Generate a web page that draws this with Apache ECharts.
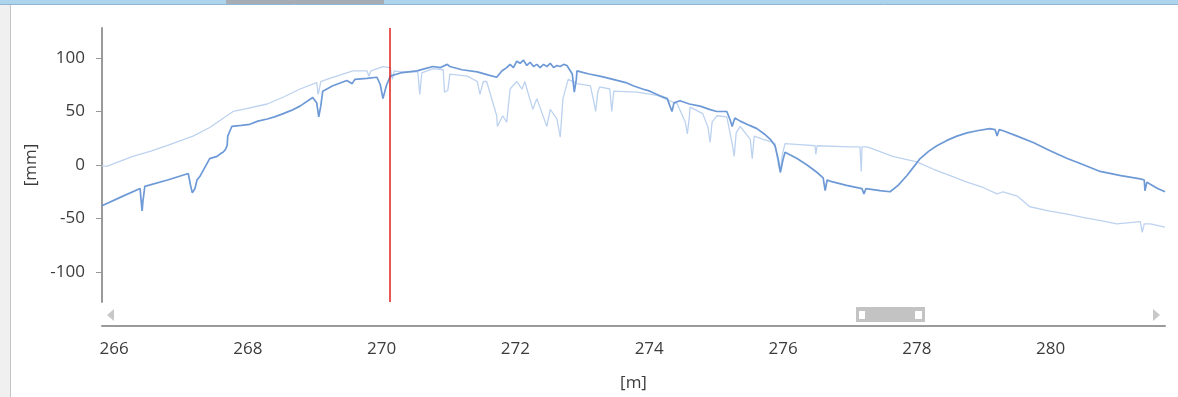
<!DOCTYPE html>
<html>
<head>
<meta charset="utf-8">
<script src="https://cdn.jsdelivr.net/npm/echarts@6/dist/echarts.min.js"></script>
<style>
html, body { margin: 0; padding: 0; background: #fff; }
#chart { width: 1178px; height: 397px; }
</style>
</head>
<body>
<div id="chart"></div>
<script>
// 数据: [位置 m, 偏差 mm]
var darkLine = [
    [265.82, -38], [266.10, -30], [266.39, -22], [266.40, -30], [266.42, -43], [266.43, -35],
    [266.45, -25], [266.46, -20], [266.80, -14], [267.11, -8], [267.14, -18], [267.17, -26],
    [267.21, -22], [267.24, -14], [267.29, -10], [267.43, 6], [267.54, 8], [267.60, 11],
    [267.63, 12], [267.66, 14], [267.69, 18], [267.70, 27], [267.76, 36], [267.90, 37],
    [268.03, 38], [268.15, 41], [268.29, 43], [268.40, 45], [268.53, 48], [268.65, 51],
    [268.78, 55], [268.97, 63], [269.03, 58], [269.06, 45], [269.09, 55], [269.12, 69],
    [269.27, 74], [269.48, 79], [269.56, 76], [269.60, 80], [269.78, 81], [269.93, 82],
    [269.98, 75], [270.02, 62], [270.07, 74], [270.13, 83], [270.28, 86], [270.40, 87],
    [270.53, 88], [270.65, 90], [270.77, 92], [270.88, 91], [270.98, 94], [271.02, 92],
    [271.20, 89], [271.43, 87], [271.60, 84], [271.72, 82], [271.80, 88], [271.87, 91],
    [271.92, 94], [271.97, 91], [272.02, 97], [272.07, 95], [272.12, 98], [272.17, 93],
    [272.22, 96], [272.27, 92], [272.32, 94], [272.37, 91], [272.42, 94], [272.47, 92],
    [272.52, 95], [272.57, 91], [272.62, 93], [272.67, 92], [272.72, 94], [272.77, 93],
    [272.85, 85], [272.88, 68], [272.91, 80], [272.92, 88], [273.10, 85], [273.26, 83],
    [273.40, 81], [273.52, 79], [273.65, 77], [273.76, 74], [273.90, 71], [274.01, 69],
    [274.15, 65], [274.27, 62], [274.31, 55], [274.34, 50], [274.37, 58], [274.46, 60],
    [274.60, 57], [274.76, 55], [274.90, 52], [275.01, 50], [275.16, 50], [275.21, 42],
    [275.24, 36], [275.28, 44], [275.36, 41], [275.50, 37], [275.61, 34], [275.72, 29],
    [275.81, 24], [275.88, 18], [275.93, 5], [275.96, -7], [276.00, 5], [276.03, 12],
    [276.21, 6], [276.36, 0], [276.51, -7], [276.60, -12], [276.63, -24], [276.66, -14],
    [276.70, -15], [276.95, -19], [277.18, -22], [277.21, -27], [277.24, -22], [277.45, -24],
    [277.60, -25], [277.72, -19], [277.85, -10], [277.95, -2], [278.05, 6], [278.18, 13],
    [278.30, 18], [278.45, 23], [278.60, 27], [278.75, 30], [278.90, 32], [279.09, 34],
    [279.17, 33], [279.20, 27], [279.23, 33], [279.29, 32], [279.50, 27], [279.74, 21],
    [280.00, 13], [280.25, 6], [280.50, 0], [280.74, -6], [281.05, -10], [281.34, -13],
    [281.40, -14], [281.41, -24], [281.44, -16], [281.49, -18], [281.60, -22], [281.71, -25]
];

var lightLine = [
    [265.82, -1], [265.90, -1], [266.28, 8], [266.55, 13], [266.79, 18], [267.18, 27],
    [267.43, 35], [267.78, 50], [267.93, 52], [268.29, 57], [268.55, 64], [268.78, 71],
    [269.03, 77], [269.05, 66], [269.06, 68], [269.09, 78], [269.18, 80], [269.57, 88],
    [269.78, 88], [269.81, 83], [269.84, 88], [270.02, 92], [270.13, 91], [270.16, 80],
    [270.19, 88], [270.28, 87], [270.54, 87], [270.57, 66], [270.60, 86], [270.77, 90],
    [270.92, 89], [270.94, 68], [270.99, 70], [271.02, 85], [271.28, 83], [271.43, 78],
    [271.47, 66], [271.52, 78], [271.57, 78], [271.72, 46], [271.73, 36], [271.81, 46],
    [271.87, 40], [271.92, 71], [272.02, 78], [272.10, 71], [272.14, 78], [272.26, 52],
    [272.32, 62], [272.47, 36], [272.52, 52], [272.62, 43], [272.67, 26], [272.71, 62],
    [272.79, 80], [272.92, 76], [273.12, 74], [273.17, 60], [273.20, 50], [273.23, 68],
    [273.26, 73], [273.41, 71], [273.44, 50], [273.47, 69], [273.82, 68], [274.12, 65],
    [274.42, 57], [274.54, 40], [274.57, 29], [274.60, 45], [274.61, 54], [274.80, 48],
    [274.88, 35], [274.91, 21], [274.94, 40], [275.01, 46], [275.16, 45], [275.24, 20],
    [275.27, 8], [275.30, 30], [275.36, 36], [275.51, 24], [275.54, 6], [275.57, 27],
    [275.70, 24], [275.81, 22], [275.88, 20], [275.93, 0], [275.96, -6], [275.99, 10],
    [276.03, 20], [276.25, 19], [276.48, 18], [276.49, 10], [276.51, 18], [277.00, 17],
    [277.15, 17], [277.17, -6], [277.18, 17], [277.26, 17], [277.64, 8], [278.00, 3],
    [278.25, -4], [278.50, -10], [278.75, -16], [278.99, -21], [279.20, -27], [279.29, -25],
    [279.50, -29], [279.69, -39], [279.99, -43], [280.25, -46], [280.48, -49], [280.75, -52],
    [280.99, -55], [281.34, -53], [281.37, -63], [281.40, -55], [281.49, -55], [281.71, -58]
];

var cursorPos = 270.12;
var xTicks = [266, 268, 270, 272, 274, 276, 278, 280];
var yTicks = [-100, -50, 0, 50, 100];

var labelFont = '"Open Sans", "Noto Sans", sans-serif';
var myChart = echarts.init(document.getElementById('chart'));
myChart.setOption({
    animation: false,
    textStyle: {fontFamily: labelFont},
    grid: {left: 102, right: 13, top: 28, bottom: 95},
    xAxis: {
        type: 'value',
        min: 265.82,
        max: 281.71,
        offset: 24,
        name: '[m]',
        nameLocation: 'middle',
        nameGap: 49,
        nameTextStyle: {color: '#3c3c3c', fontSize: 17, fontFamily: labelFont},
        axisLine: {onZero: false, lineStyle: {color: '#9a9a9a', width: 2}},
        axisTick: {show: false},
        splitLine: {show: false},
        axisLabel: {
            customValues: xTicks,
            color: '#3c3c3c',
            fontSize: 17,
            margin: 15
        }
    },
    yAxis: {
        type: 'value',
        min: -128,
        max: 128,
        name: '[mm]',
        nameLocation: 'middle',
        nameGap: 62,
        nameRotate: 90,
        nameTextStyle: {color: '#3c3c3c', fontSize: 17, fontFamily: labelFont},
        axisLine: {show: true, onZero: false, lineStyle: {color: '#9a9a9a', width: 2}},
        axisTick: {show: true, customValues: yTicks, length: 6, lineStyle: {color: '#9a9a9a'}},
        splitLine: {show: false},
        axisLabel: {
            customValues: yTicks,
            color: '#3c3c3c',
            fontSize: 17,
            margin: 17
        }
    },
    series: [
        {
            name: 'light',
            type: 'line',
            data: lightLine,
            showSymbol: false,
            silent: true,
            lineStyle: {color: '#bdd2ef', width: 1.3}
        },
        {
            name: 'dark',
            type: 'line',
            data: darkLine,
            showSymbol: false,
            silent: true,
            lineStyle: {color: '#6d99d6', width: 1.7},
            markLine: {
                silent: true,
                symbol: ['none', 'none'],
                label: {show: false},
                lineStyle: {color: '#e0201c', width: 1.5, type: 'solid'},
                data: [{xAxis: cursorPos}]
            }
        }
    ],
    graphic: [
        // 窗口边框
        {type: 'rect', shape: {x: 0, y: 0, width: 10, height: 397}, style: {fill: '#f0f0f0'}, silent: true},
        {type: 'line', shape: {x1: 10.5, y1: 0, x2: 10.5, y2: 397}, style: {stroke: '#c4c4c4', lineWidth: 1}, silent: true},
        {type: 'rect', shape: {x: 0, y: 0, width: 1178, height: 4}, style: {fill: '#aed3ec'}, silent: true},
        {type: 'rect', shape: {x: 226, y: 0, width: 158, height: 4}, style: {fill: '#a6adb5'}, silent: true},
        {type: 'line', shape: {x1: 0, y1: 4.5, x2: 1178, y2: 4.5}, style: {stroke: '#8cb6d4', lineWidth: 1}, silent: true},
        // 滚动条
        {type: 'polygon', shape: {points: [[114, 309], [114, 321], [107, 315]]}, style: {fill: '#c8c8c8'}, silent: true},
        {type: 'polygon', shape: {points: [[1153, 309], [1153, 321], [1160, 315]]}, style: {fill: '#c8c8c8'}, silent: true},
        {type: 'rect', shape: {x: 856, y: 307, width: 69, height: 15}, style: {fill: '#c3c3c3'}, silent: true},
        {type: 'rect', shape: {x: 859, y: 311, width: 6, height: 8}, style: {fill: '#ffffff'}, silent: true},
        {type: 'rect', shape: {x: 915, y: 311, width: 7, height: 8}, style: {fill: '#ffffff'}, silent: true}
    ]
});
</script>
</body>
</html>
